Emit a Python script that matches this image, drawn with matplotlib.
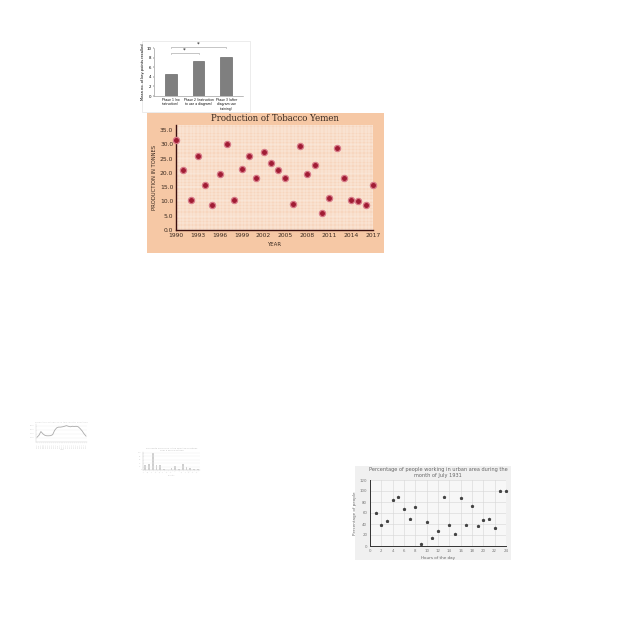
#!/usr/bin/python
# collage of five small charts on one 640x640 canvas

import matplotlib
matplotlib.use("Agg")
import matplotlib.pyplot as plt
from matplotlib.patches import Rectangle

#################################
# Data
#################################
phase_labels = ["Phase 1 (no\ninstruction)", "Phase 2 (instruction\nto use a diagram)",
                "Phase 3 (after\ndiagram use\ntraining)"]
phase_means = [4.5, 7.3, 8.1]

tob_years = list(range(1990, 2018))
tob_values = [31.7, 21.0, 10.5, 26.0, 15.7, 8.6, 19.7, 30.3, 10.6, 21.4,
              25.8, 18.4, 27.2, 23.5, 20.9, 18.1, 9.1, 29.6, 19.6, 22.8,
              6.1, 11.2, 28.7, 18.2, 10.5, 10.0, 8.9, 15.8]

urban_hours = list(range(1, 25))
urban_pct = [60, 39, 45, 84, 90, 68, 49, 71, 4, 43, 15, 27,
             89, 38, 21, 88, 38, 72, 37, 48, 49, 32, 100, 100]

line_labels = [str(y) for y in range(1990, 2016)]
line_values = [29, 41, 64, 50, 41, 38, 38, 39, 45, 71, 86, 91, 91,
               93, 96, 100, 96, 93, 96, 95, 96, 93, 82, 68, 50, 36]

small_bar_labels = ["A", "B", "C", "D", "E", "F", "G", "H",
                    "I", "J", "K", "L", "M", "N", "O"]
small_bar_values = [27, 33, 100, 27, 27, 5, 2, 9, 24, 5, 33, 15, 9, 5, 4]

W = 640


def axes_px(fig, x0, y0, x1, y1):
    # pixel box (top-left origin) -> figure axes
    return fig.add_axes([x0 / W, 1 - y1 / W, (x1 - x0) / W, (y1 - y0) / W])


def panel(fig, x0, y0, x1, y1, fc, ec="none"):
    fig.patches.append(Rectangle((x0 / W, 1 - y1 / W), (x1 - x0) / W, (y1 - y0) / W,
                                 transform=fig.transFigure, facecolor=fc,
                                 edgecolor=ec, linewidth=0.5, zorder=-5))


fig = plt.figure(figsize=(6.4, 6.4), dpi=100)
fig.patch.set_facecolor("white")

#################################
# Phase bar chart
#################################
panel(fig, 142, 41, 250, 112, "white", "#e4e4e4")
ax = axes_px(fig, 154, 48, 243, 96)
ax.bar(range(3), phase_means, width=0.42, color="#7f7f7f", edgecolor="#555555", linewidth=0.4)
ax.set_ylim(0, 10)
ax.set_xlim(-0.6, 2.6)
ax.set_yticks(range(0, 11, 2))
ax.set_xticks(range(3))
ax.set_xticklabels(phase_labels, fontsize=2.2, va="top", linespacing=1.1)
ax.tick_params(axis="y", labelsize=2.8, length=1, width=0.3, pad=1)
ax.tick_params(axis="x", length=0, pad=1.5)
ax.set_ylabel("Mean no. of key points recalled", fontsize=2.6, labelpad=1)
for s in ax.spines.values():
    s.set_linewidth(0.4)
    s.set_color("#888888")
ax.spines["top"].set_visible(False)
ax.spines["right"].set_visible(False)
# significance brackets
ax.plot([0, 0, 2, 2], [10.0, 10.3, 10.3, 10.0], color="#999999", lw=0.4, clip_on=False)
ax.plot([0, 0, 1, 1], [8.7, 9.0, 9.0, 8.7], color="#999999", lw=0.4, clip_on=False)
ax.text(1, 10.35, "*", fontsize=4, ha="center", va="bottom")
ax.text(0.5, 9.05, "*", fontsize=4, ha="center", va="bottom")

#################################
# Tobacco scatter
#################################
panel(fig, 147, 113, 384, 253, "#f6c8a5")
ax = axes_px(fig, 176, 125, 373, 230)
ax.set_facecolor("#f7d6bf")
ax.scatter(tob_years, tob_values, s=20, color="#a01c34", edgecolor="#d77a88",
           linewidth=0.9, zorder=3, clip_on=False)
ax.set_xlim(1990, 2017)
ax.set_ylim(0, 36.8)
ax.set_xticks(range(1990, 2018, 3))
ax.set_yticks([v * 5 for v in range(8)])
ax.set_yticklabels([f"{v * 5:.1f}" for v in range(8)])
ax.set_xticks([1990 + 0.5 * i for i in range(55)], minor=True)
ax.set_yticks([1.15 * i for i in range(33)], minor=True)
ax.grid(True, which="both", color="#fdf3ec", linewidth=0.35)
ax.tick_params(which="both", length=0, labelsize=4.3, pad=2, colors="#3a2a20")
for side in ["top", "right"]:
    ax.spines[side].set_visible(False)
for side in ["left", "bottom"]:
    ax.spines[side].set_color("#3a1010")
    ax.spines[side].set_linewidth(1.0)
ax.set_title("Production of Tobacco Yemen", fontsize=6.2, family="DejaVu Serif",
             color="#3a2a20", pad=3)
ax.set_xlabel("YEAR", fontsize=4, labelpad=3, color="#3a2a20")
ax.set_ylabel("PRODUCTION IN TONNES", fontsize=3.8, labelpad=2, color="#3a2a20")

#################################
# Urban scatter
#################################
panel(fig, 355, 466, 511, 560, "#f0f0f0")
ax = axes_px(fig, 370, 480, 506, 546)
ax.set_facecolor("#f7f7f7")
ax.scatter(urban_hours, urban_pct, marker="*", s=2.5, color="#444444", zorder=3, clip_on=False)
ax.set_xlim(0, 24)
ax.set_ylim(0, 120)
ax.set_xticks(range(0, 25, 2))
ax.set_yticks(range(0, 121, 20))
ax.grid(True, color="#d6d6d6", linewidth=0.4)
ax.tick_params(length=0, labelsize=2.8, pad=2, colors="#777777")
for side in ["top", "right"]:
    ax.spines[side].set_visible(False)
for side in ["left", "bottom"]:
    ax.spines[side].set_color("#333333")
    ax.spines[side].set_linewidth(0.7)
ax.set_title("Percentage of people working in urban area during the\nmonth of July 1931",
             fontsize=3.6, color="#666666", pad=2, linespacing=1.2)
ax.set_xlabel("Hours of the day", fontsize=3, color="#666666", labelpad=2)
ax.set_ylabel("Percentage of people", fontsize=3, color="#666666", labelpad=2)

#################################
# Faint line chart
#################################
ax = axes_px(fig, 36, 424, 87, 442)
ax.plot(range(len(line_values)), line_values, color="#aaaaaa", lw=0.6)
ax.set_xlim(-0.5, len(line_values) - 0.5)
ax.set_ylim(0, 110)
ax.set_xticks(range(len(line_labels)))
ax.set_xticklabels(line_labels, rotation=90, fontsize=1.3, color="#cccccc")
ax.set_yticks(range(0, 101, 25))
ax.set_yticklabels(["", "2000", "4000", "6000", "8000"], fontsize=1.3, color="#cccccc")
ax.tick_params(length=0.5, width=0.2, pad=0.5, colors="#cccccc")
ax.grid(axis="y", color="#f0f0f0", lw=0.3)
for side in ["top", "right"]:
    ax.spines[side].set_visible(False)
for side in ["left", "bottom"]:
    ax.spines[side].set_color("#cccccc")
    ax.spines[side].set_linewidth(0.3)
ax.set_title("Production of tobacco in this country over time", fontsize=1.6,
             color="#cccccc", pad=1)
ax.set_xlabel("Year", fontsize=1.4, color="#cccccc", labelpad=0.5)

#################################
# Faint bar chart
#################################
ax = axes_px(fig, 143, 452, 200, 470)
ax.bar(range(len(small_bar_values)), small_bar_values, width=0.5, color="#cfcfcf")
ax.set_xlim(-0.6, len(small_bar_values) - 0.4)
ax.set_ylim(0, 105)
ax.set_xticks(range(len(small_bar_labels)))
ax.set_xticklabels(small_bar_labels, rotation=45, fontsize=1.3, color="#cccccc", ha="right")
ax.set_yticks(range(0, 101, 20))
ax.set_yticklabels([str(v) for v in range(0, 101, 20)], fontsize=1.3, color="#cccccc")
ax.tick_params(length=0.5, width=0.2, pad=0.5, colors="#cccccc")
ax.grid(axis="y", color="#eeeeee", lw=0.3)
for side in ["top", "right"]:
    ax.spines[side].set_visible(False)
for side in ["left", "bottom"]:
    ax.spines[side].set_color("#bbbbbb")
    ax.spines[side].set_linewidth(0.3)
ax.set_title("Per capita emissions in the selected countries\nover a period of time", fontsize=1.6,
             color="#bbbbbb", pad=1)
ax.set_xlabel("Country", fontsize=1.4, color="#cccccc", labelpad=1)

fig.savefig("out.png", dpi=100)
